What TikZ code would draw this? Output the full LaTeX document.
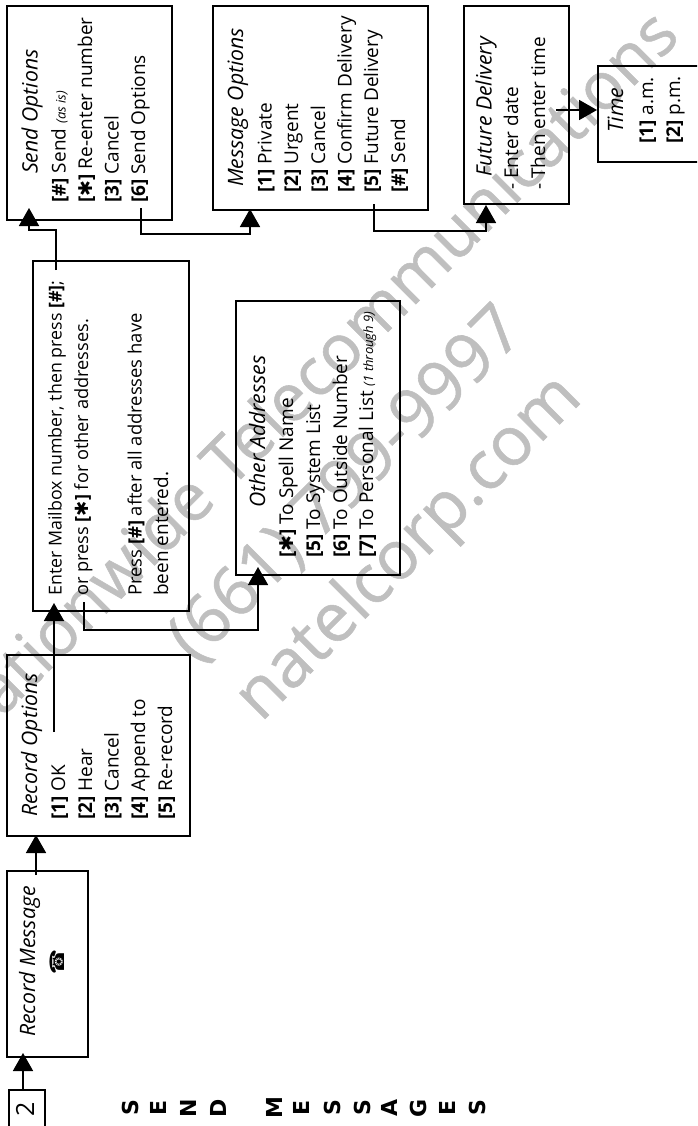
\documentclass[tikz,border=0pt]{standalone}
\usepackage{fontspec}
\setmainfont{Open Sans}
\newfontfamily\symf{DejaVu Sans}
\newfontfamily\heavy{DejaVu Sans}
\newfontfamily\wmf[FakeBold=0.8]{Open Sans}
\usetikzlibrary{arrows.meta}
\tikzset{
  x=1pt,y=-1pt,
  boxn/.style={draw=black,line width=1.7pt,fill=none,minimum width=0pt},
  txt/.style={rotate=90,anchor=base west,inner sep=0pt,font=\fontsize{19}{21}\selectfont},
  wm/.style={rotate=45,inner sep=0pt,text=black!25,font=\wmf\fontsize{68}{72}\selectfont},
  sidel/.style={rotate=90,anchor=base,inner sep=0pt,font=\heavy\bfseries\fontsize{22}{24}\selectfont},
  conn/.style={draw=black,line width=1.7pt,-{Triangle[length=18pt,width=20pt]}},
}
\newcommand{\kk}[1]{\textbf{[#1]}}
\newcommand{\stark}{\textbf{[}{\symf\char"2731}\textbf{]}}
\newcommand{\ttl}[1]{{\fontsize{21.2}{23}\selectfont\itshape #1}}
\newcommand{\sml}[1]{{\fontsize{13}{15}\selectfont\itshape #1}}
\newcommand{\boxat}[5]{\node[boxn,inner sep=0pt,anchor=north west,minimum width=#4pt-#2pt,minimum height=#5pt-#3pt] (#1) at (#2,#3) {};}
\begin{document}
\begin{tikzpicture}
\useasboundingbox (0,0) rectangle (697,1126);
\begin{scope}
\clip (0,0) rectangle (697,1126);
\node[wm,anchor=base east,font=\wmf\fontsize{66.5}{72}\selectfont] (w1) at (682,38) {Nationwide Telecommunications};
\node[wm,anchor=base east] (w2) at (527,333) {(661) 799-9997};
\node[wm,anchor=base east] (w3) at (584,400) {natelcorp.com};
\end{scope}
% boxes
\begin{scope}
\clip (0,0) rectangle (697,1126);
\boxat{two}{8}{1089}{44}{1140}
\boxat{time}{597}{65}{710}{161}
\end{scope}
\boxat{rm}{6}{870}{87}{1056}
\boxat{ro}{6}{654}{189}{835}
\boxat{en}{32}{260}{188}{610}
\boxat{so}{6}{5}{171}{219}
\boxat{oa}{235}{300}{399}{574}
\boxat{mo}{212}{5}{427}{209}
\boxat{fd}{463}{5}{568}{203}
% texts
\node[rotate=90,inner sep=0pt,font=\fontsize{25}{27}\selectfont] (twot) at (25,1109) {2};
\node[txt] (t1) at (35,1037) {\ttl{Record Message}};
\node[rotate=90,inner sep=0pt,font=\symf\fontsize{20}{22}\selectfont] (phone) at (57,962) {\char"260E};
\node[txt] (t2) at (37,817) {\ttl{Record Options}};
\node[txt] (t3) at (65,820) {\kk{1} OK};
\node[txt] (t4) at (92,820) {\kk{2} Hear};
\node[txt] (t5) at (118.5,820) {\kk{3} Cancel};
\node[txt] (t6) at (145,820) {\kk{4} Append to};
\node[txt] (t7) at (172,820) {\kk{5} Re-record};
\node[txt] (s0) at (37.5,174) {\ttl{Send Options}};
\node[txt] (s1) at (65.5,203) {\kk{\#} Send \sml{(as is)}};
\node[txt] (s2) at (92,203) {\stark{} Re-enter number};
\node[txt] (s3) at (118.5,203) {\kk{3} Cancel};
\node[txt] (s4) at (145,203) {\kk{6} Send Options};
\node[txt,font=\fontsize{17.8}{20}\selectfont] (e1) at (61.7,596) {Enter Mailbox number, then press \kk{\#};};
\node[txt,font=\fontsize{18.2}{20}\selectfont] (e2) at (88,596) {or press \stark{} for other addresses.};
\node[txt,font=\fontsize{18.4}{20}\selectfont] (e3) at (141.7,596) {Press \kk{\#} after all addresses have};
\node[txt] (e4) at (168,596) {been entered.};
\node[txt] (a0) at (265,508) {\ttl{Other Addresses}};
\node[txt] (a1) at (293,558) {\stark{} To Spell Name};
\node[txt] (a2) at (320,558) {\kk{5} To System List};
\node[txt] (a3) at (347,558) {\kk{6} To Outside Number};
\node[txt] (a4) at (373,558) {\kk{7} To Personal List \sml{(1 through 9)}};
\node[txt] (m0) at (243,187) {\ttl{Message Options}};
\node[txt] (m1) at (271.7,193) {\kk{1} Private};
\node[txt] (m2) at (298,193) {\kk{2} Urgent};
\node[txt] (m3) at (325,193) {\kk{3} Cancel};
\node[txt] (m4) at (351.7,193) {\kk{4} Confirm Delivery};
\node[txt] (m5) at (378,193) {\kk{5} Future Delivery};
\node[txt] (m6) at (405,193) {\kk{\#} Send};
\node[txt] (f0) at (491.7,177) {\ttl{Future Delivery}};
\node[txt] (f1) at (518,190) {- Enter date};
\node[txt] (f2) at (545,190) {- Then enter time};
\node[txt] (h0) at (623,133) {\ttl{Time}};
\node[txt] (h1) at (653,144) {\kk{1} a.m.};
\node[txt] (h2) at (680,144) {\kk{2} p.m.};
% side title
\foreach \n/\xx/\c in {l1/138/S,l2/166.7/E,l3/196.7/N,l4/226/D,l5/282.7/M,l6/309.3/E,l7/340/S,l8/370/S,l9/397/A,l10/426.7/G,l11/455/E,l12/485/S}
  \node[sidel] (\n) at (\xx,1108) {\c};
% connector ends
\coordinate (c1) at (23,1089); \coordinate (c1t) at (23,1053);
\coordinate (c2) at (36,875); \coordinate (c2t) at (36,835);
\coordinate (c3) at (54,732); \coordinate (c3t) at (54,603);
\coordinate (c4) at (56,270); \coordinate (c4m) at (29,230); \coordinate (c4t) at (29,208);
\coordinate (c5) at (84,602); \coordinate (c5t) at (258,567);
\coordinate (c6) at (141,208); \coordinate (c6t) at (250,209);
\coordinate (c7) at (374,204); \coordinate (c7t) at (486,205);
\coordinate (c8) at (556,110); \coordinate (c8t) at (597,110);
\draw[conn] (c1) -- (c1t);
\draw[conn] (c2) -- (c2t);
\draw[conn] (c3) -- (c3t);
\draw[conn] (c4) -- (c4 |- c4m) -- (c4m) -- (c4t);
\draw[conn] (c5) -- (84,630) -- (258,630) -- (c5t);
\draw[conn] (c6) -- (141,234) -- (250,234) -- (c6t);
\draw[conn] (c7) -- (374,231) -- (486,231) -- (c7t);
\draw[conn] (c8) -- (c8t);
\end{tikzpicture}
\end{document}
